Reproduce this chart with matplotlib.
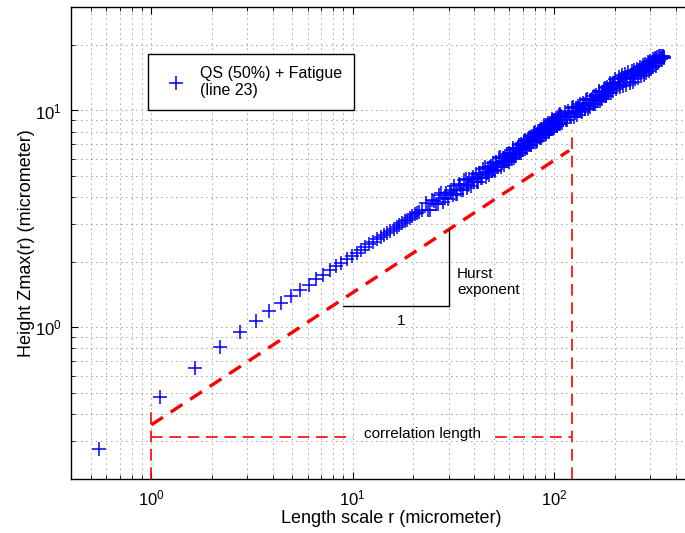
import math
import matplotlib
matplotlib.use("Agg")
import matplotlib.pyplot as plt
from matplotlib.ticker import LogLocator, NullFormatter

plt.rcParams['font.family'] = ['Liberation Sans', 'DejaVu Sans']
plt.rcParams['mathtext.fontset'] = 'custom'
plt.rcParams['mathtext.rm'] = 'Liberation Sans'
plt.rcParams['mathtext.it'] = 'Liberation Sans:italic'
plt.rcParams['mathtext.default'] = 'regular'

# ---- data ----
r_um = [0.55, 1.10, 1.65, 2.20, 2.75, 3.30, 3.85, 4.40, 4.95, 5.50,
        6.05, 6.60, 7.15, 7.70, 8.25, 8.80, 9.35, 9.90, 10.45, 11.00,
        11.55, 12.10, 12.65, 13.20, 13.75, 14.30, 14.85, 15.40, 15.95, 16.50,
        17.05, 17.60, 18.15, 18.70, 19.25, 19.80, 20.35, 20.90, 21.45, 22.00,
        23.1, 24.2, 25.3, 26.4, 27.5, 28.6, 29.7, 30.8, 31.9, 33.0,
        34.1, 35.2, 36.3, 37.4, 38.5, 39.6, 40.7, 41.8, 42.9, 44.0,
        45.1, 46.2, 47.3, 48.4, 49.5, 50.6, 51.7, 52.8, 53.9, 55.0,
        56.1, 57.2, 58.3, 59.4, 60.5, 61.6, 62.7, 63.8, 64.9, 66.0,
        67.1, 68.2, 69.3, 70.4, 71.5, 72.6, 73.7, 74.8, 75.9, 77.0,
        78.1, 79.2, 80.3, 81.4, 82.5, 83.6, 84.7, 85.8, 86.9, 88.0,
        89.1, 90.2, 91.3, 92.4, 93.5, 94.6, 95.7, 96.8, 97.9, 99.0,
        100.1, 101.2, 102.3, 103.4, 104.5, 105.6, 106.7, 107.8, 108.9,
        112.75, 115.5, 118.25, 121.0, 123.75, 126.5, 129.25, 132.0, 134.75, 137.5,
        140.25, 143.0, 145.75, 148.5, 151.25, 154.0, 156.75, 159.5, 162.25, 165.0,
        167.75, 170.5, 173.25, 176.0, 178.75, 181.5, 184.25, 187.0, 189.75, 192.5,
        195.25, 198.0, 200.75, 203.5, 206.25, 209.0, 211.75, 214.5, 217.25, 220.0,
        222.75, 225.5, 228.25, 231.0, 233.75, 236.5, 239.25, 242.0, 244.75, 247.5,
        250.25, 253.0, 255.75, 258.5, 261.25, 264.0, 266.75, 269.5, 272.25, 275.0,
        277.75, 280.5, 283.25, 286.0, 288.75, 291.5, 294.25, 297.0, 299.75, 302.5,
        305.25, 308.0, 310.75, 313.5, 316.25, 319.0, 321.75, 324.5, 327.25, 330.0,
        332.75, 335.5, 338.25, 341.0, 343.75, 346.5, 349.25, 352.0]
zmax_um = [0.275, 0.48, 0.65, 0.81, 0.95, 1.07, 1.19, 1.29, 1.39, 1.48,
           1.57, 1.67, 1.75, 1.83, 1.91, 1.99, 2.06, 2.14, 2.21, 2.28,
           2.35, 2.42, 2.48, 2.55, 2.61, 2.67, 2.73, 2.79, 2.85, 2.91,
           2.96, 3.02, 3.08, 3.14, 3.20, 3.27, 3.32, 3.37, 3.42, 3.47,
           3.75, 3.48, 3.84, 3.70, 4.18, 3.94, 3.90, 4.31, 4.47, 4.12,
           4.51, 4.31, 4.84, 4.55, 4.47, 4.92, 5.09, 4.67, 5.09, 4.87,
           5.47, 5.14, 5.05, 5.56, 5.75, 5.27, 5.73, 5.46, 6.11, 5.71,
           5.61, 6.14, 6.33, 5.80, 6.29, 6.00, 6.70, 6.27, 6.15, 6.75,
           6.95, 6.37, 6.91, 6.58, 7.34, 6.86, 6.72, 7.35, 7.57, 6.92,
           7.50, 7.13, 7.95, 7.42, 7.26, 7.94, 8.17, 7.46, 8.08, 7.67,
           8.54, 7.97, 7.79, 8.52, 8.75, 7.98, 8.63, 8.19, 9.11, 8.49,
           8.28, 9.04, 9.28, 8.46, 9.14, 8.66, 9.62, 8.96, 8.73,
           9.80, 9.00, 9.77, 9.31, 10.40, 9.73, 9.54, 10.45, 10.77, 9.85,
           10.68, 10.16, 11.33, 10.58, 10.36, 11.35, 11.69, 10.69, 11.59, 11.02,
           12.30, 11.49, 11.25, 12.32, 12.69, 11.61, 12.60, 11.98, 13.37, 12.50,
           12.24, 13.41, 14.0, 12.6, 13.6, 14.2, 12.8, 13.9, 14.5, 13.0,
           14.1, 14.8, 13.1, 14.3, 15.0, 13.4, 14.6, 15.2, 13.6, 14.8,
           15.4, 13.9, 15.1, 15.6, 14.1, 15.3, 15.9, 14.4, 15.6, 16.2,
           14.6, 15.9, 16.4, 14.9, 16.1, 16.7, 15.2, 16.5, 16.9, 15.5,
           16.7, 17.2, 15.8, 17.0, 17.4, 16.1, 17.3, 17.7, 16.5, 17.9,
           17.0, 17.9, 17.2, 17.9, 17.4, 17.9, 17.5, 17.7]
# in-between samples of the same curve (dense part of the band)
r_um_mid = [23.65, 24.75, 25.85, 26.95, 28.05, 29.15, 30.25, 31.35, 32.45, 33.55,
            34.65, 35.75, 36.85, 37.95, 39.05, 40.15, 41.25, 42.35, 43.45, 44.55,
            45.65, 46.75, 47.85, 48.95, 50.05, 51.15, 52.25, 53.35, 54.45, 55.55,
            56.65, 57.75, 58.85, 59.95, 61.05, 62.15, 63.25, 64.35, 65.45, 66.55,
            67.65, 68.75, 69.85, 70.95, 72.05, 73.15, 74.25, 75.35, 76.45, 77.55,
            78.65, 79.75, 80.85, 81.95, 83.05, 84.15, 85.25, 86.35, 87.45, 88.55,
            89.65, 90.75, 91.85, 92.95, 94.05, 95.15, 96.25, 97.35, 98.45, 99.55,
            100.65, 101.75, 102.85, 103.95, 105.05, 106.15, 107.25, 108.35,
            114.125, 116.875, 119.625, 122.375, 125.125, 127.875, 130.625, 133.375,
            136.125, 138.875, 141.625, 144.375, 147.125, 149.875, 152.625, 155.375,
            158.125, 160.875, 163.625, 166.375, 169.125, 171.875, 174.625, 177.375,
            180.125, 182.875, 185.625, 188.375, 191.125, 193.875, 196.625]
zmax_um_mid = [3.47, 3.86, 3.69, 4.09, 3.78, 4.18, 4.22, 4.09, 4.13, 4.56,
               4.32, 4.76, 4.37, 4.82, 4.84, 4.67, 4.69, 5.15, 4.88, 5.37,
               4.94, 5.44, 5.47, 5.28, 5.29, 5.81, 5.49, 6.01, 5.51, 6.04,
               6.05, 5.82, 5.82, 6.38, 6.02, 6.60, 6.04, 6.63, 6.64, 6.39,
               6.39, 7.00, 6.61, 7.23, 6.61, 7.25, 7.25, 6.96, 6.96, 7.61,
               7.17, 7.84, 7.16, 7.83, 7.83, 7.51, 7.50, 8.20, 7.72, 8.43,
               7.69, 8.41, 8.40, 8.05, 8.03, 8.77, 8.24, 8.99, 8.19, 8.95,
               8.93, 8.55, 8.52, 9.29, 8.72, 9.50, 8.65, 9.44,
               9.02, 9.91, 9.35, 10.24, 9.38, 10.28, 10.30, 9.90,
               9.90, 10.84, 10.21, 11.17, 10.21, 11.18, 11.18, 10.74,
               10.74, 11.76, 11.08, 12.12, 11.08, 12.13, 12.14, 11.66,
               11.67, 12.78, 12.04, 13.17, 12.05, 13.20, 13.21]
series_label = "QS (50%) + Fatigue\n(line 23)"

# fitted power law (Hurst exponent) and correlation length
fit_r = [1.0, 118.7]
fit_z = [0.355, 6.54]
corr_len = 122.0
corr_level = 0.314
hurst_tri_r = [8.93, 29.9, 29.9]
hurst_tri_z = [1.26, 1.26, 2.82]

fig = plt.figure(figsize=(6.85, 5.33), dpi=100)
xmin, xmax = 0.4, 600.0
width_px = math.log10(xmax / xmin) * 201.5
ax = fig.add_axes([71/685, 54/533, width_px/685, 472/533])
ax.set_xscale('log')
ax.set_yscale('log')
ax.set_xlim(xmin, xmax)
ax.set_ylim(0.2, 30)

ax.plot(r_um + r_um_mid, zmax_um + zmax_um_mid, linestyle='none', marker='+',
        color='#0000ff', markersize=10, markeredgewidth=1.1, label=series_label,
        zorder=3)

red = '#ff0000'
ax.plot(fit_r, fit_z, color=red, lw=2.4, dashes=(4.2, 2.8), zorder=4)
ax.plot([1.0, 1.0], [0.2, 0.44], color=red, lw=1.2, dashes=(7, 4), zorder=4)
ax.plot([1.0, 10.0], [corr_level, corr_level], color=red, lw=1.2, dashes=(7, 4), zorder=4)
ax.plot([51.0, corr_len], [corr_level, corr_level], color=red, lw=1.2, dashes=(7, 4), zorder=4)
ax.plot([corr_len, corr_len], [0.2, 8.1], color=red, lw=1.2, dashes=(7, 4), zorder=4)
ax.plot(hurst_tri_r, hurst_tri_z, color='black', lw=1.0, zorder=4)

ax.text(22.1, 0.322, "correlation length", ha='center', va='center', fontsize=11)
ax.text(33.0, 1.62, "Hurst\nexponent", ha='left', va='center', fontsize=11, linespacing=1.2)
ax.text(17.4, 1.07, "1", ha='center', va='center', fontsize=11)

ax.xaxis.set_major_locator(LogLocator(base=10, numticks=10))
ax.xaxis.set_minor_locator(LogLocator(base=10, subs=range(2, 10), numticks=20))
ax.yaxis.set_minor_locator(LogLocator(base=10, subs=range(2, 10), numticks=20))
ax.xaxis.set_minor_formatter(NullFormatter())
ax.yaxis.set_minor_formatter(NullFormatter())
ax.grid(True, which='both', color='#444444', linestyle=(0, (1, 5)), linewidth=0.6)
ax.tick_params(which='both', direction='in', top=True, right=True, labelsize=12)
ax.tick_params(which='major', length=5, width=0.8, pad=7)
ax.tick_params(which='minor', length=3, width=0.6)
for s in ax.spines.values():
    s.set_linewidth(1.0)

ax.set_xlabel("Length scale r (micrometer)", fontsize=13, labelpad=1)
ax.set_ylabel("Height Zmax(r) (micrometer)", fontsize=13, labelpad=-0.5)

leg = ax.legend(loc='upper left', bbox_to_anchor=(148/685, 1 - 54/533),
                bbox_transform=fig.transFigure, fontsize=11.5, frameon=True,
                fancybox=False, framealpha=1, edgecolor='black', borderaxespad=0,
                handlelength=2.0, handletextpad=0.5, borderpad=0.75)
leg.get_frame().set_linewidth(1.0)

fig.savefig("out.png", dpi=100)
